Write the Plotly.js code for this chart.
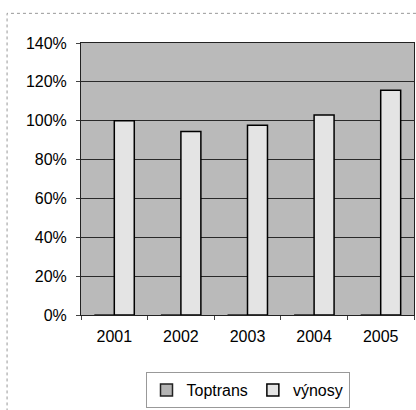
<!DOCTYPE html>
<html>
<head>
<meta charset="utf-8">
<script src="https://cdn.plot.ly/plotly-3.0.1.min.js"></script>
<style>html,body{margin:0;padding:0;background:#fff;}#chart{width:416px;height:410px;}</style>
</head>
<body>
<div id="chart"></div>
<script>
const years = ['2001', '2002', '2003', '2004', '2005'];
const toptrans = [0, 0, 0, 0, 0];
const vynosy = [1.00, 0.945, 0.977, 1.03, 1.157];
const yTicks = [0, 0.2, 0.4, 0.6, 0.8, 1.0, 1.2, 1.4];

const font = {family: 'Liberation Sans, Arial, sans-serif', size: 16, color: '#000'};

const data = [
  {type: 'bar', name: 'Toptrans', x: years, y: toptrans,
   marker: {color: '#b4b4b4', line: {color: '#222', width: 1.5}}},
  {type: 'bar', name: 'výnosy', x: years, y: vynosy,
   marker: {color: '#e4e4e4', line: {color: '#000', width: 1.5}}}
];

const layout = {
  width: 416, height: 410,
  margin: {l: 81, r: 2, t: 43, b: 91},
  paper_bgcolor: '#ffffff',
  plot_bgcolor: '#bababa',
  font: font,
  barmode: 'group',
  bargap: 0.40,
  bargroupgap: 0,
  showlegend: true,
  legend: {orientation: 'h', x: 0.5, xanchor: 'center', y: -0.21, yanchor: 'top',
           bordercolor: '#999', borderwidth: 1, font: font, bgcolor: '#fff',
           itemwidth: 30, traceorder: 'normal'},
  xaxis: {type: 'category', showgrid: false, showline: true, linecolor: '#222', linewidth: 1,
          ticks: 'outside', ticklen: 4, tickcolor: '#444', tickson: 'boundaries',
          ticklabelstandoff: 7, tickfont: font, mirror: true, fixedrange: true},
  yaxis: {range: [0, 1.4], tickvals: yTicks, tickformat: '.0%', showgrid: true,
          gridcolor: '#2a2a2a', gridwidth: 1, showline: true, linecolor: '#222', linewidth: 1,
          ticks: 'outside', ticklen: 4, tickcolor: '#444', ticklabelstandoff: 6,
          tickfont: font, zeroline: false, mirror: true, fixedrange: true},
  shapes: [
    {type: 'rect', xref: 'paper', yref: 'paper', x0: -0.222, x1: 1.1, y0: -0.4, y1: 1.109,
     line: {color: '#999', width: 1, dash: 'dot'}, fillcolor: 'rgba(0,0,0,0)', layer: 'below'}
  ]
};

Plotly.newPlot('chart', data, layout, {displayModeBar: false, staticPlot: true});
</script>
</body>
</html>
